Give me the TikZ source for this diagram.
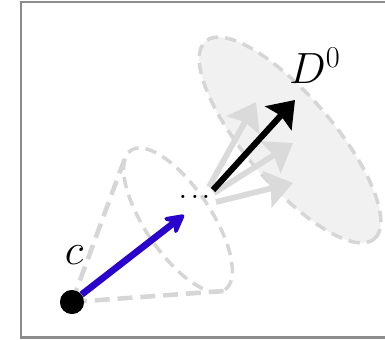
\documentclass[tikz,border=0pt]{standalone}
\usetikzlibrary{arrows.meta}
\definecolor{conegray}{HTML}{D6D6D6}
\definecolor{fadegray}{HTML}{DADADA}
\definecolor{cloudfill}{HTML}{F1F1F1}
\definecolor{framegray}{HTML}{8C8C8C}
\definecolor{pathblue}{HTML}{2A00CC}

\begin{document}
\begin{tikzpicture}[x=0.02cm, y=0.02cm,
    rim/.style={conegray, line width=2pt, dash pattern=on 6.5pt off 4pt},
    side/.style={conegray, line width=2.6pt, dash pattern=on 8.5pt off 4.5pt},
    ghost/.style={fadegray, line width=3.3pt, -{Stealth[length=15pt,width=21pt,inset=2pt]}},
    lbl/.style={font=\fontsize{26}{30}\selectfont}]
  \useasboundingbox (0,0) rectangle (385,339);
  % Frame
  \draw[framegray, line width=1.7pt] (21,2) rectangle (400,337);

  % Target region
  \draw[rim, fill=cloudfill, rotate around={-49.5:(290,199)}] (290,199) ellipse [x radius=130, y radius=44];

  % Cone around the intermediate step
  \draw[rim, rotate around={-56:(178,119)}] (178,119) ellipse [x radius=84, y radius=33];
  \node[circle, fill=black, inner sep=0pt, minimum size=13.6pt] (c0) at (72,37) {};
  \coordinate (tl) at (125,181);
  \coordinate (tr) at (224,48);
  \draw[side] (c0.center) -- (tl);
  \draw[side] (c0.center) -- (tr);

  % Possible continuations
  \coordinate (g1s) at (209,152);
  \coordinate (g1e) at (256,237);
  \coordinate (g2s) at (214,146);
  \coordinate (g2e) at (293,196);
  \coordinate (g3s) at (216,137);
  \coordinate (g3e) at (293,156);
  \draw[ghost] (g1s) -- (g1e);
  \draw[ghost] (g2s) -- (g2e);
  \draw[ghost] (g3s) -- (g3e);

  % Chosen step
  \coordinate (k0) at (213,149);
  \coordinate (k1) at (295,239);
  \draw[line width=3.5pt, -{Stealth[length=14pt,width=20pt,inset=2pt]}] (k0) -- (k1);

  % First step
  \coordinate (mid) at (184,124);
  \draw[pathblue, line width=3.8pt, -{Stealth[length=14pt,width=15pt,inset=5.5pt,round]}] (c0) -- (mid);
  \node[circle, fill=black, inner sep=0pt, minimum size=13.6pt] at (c0) {};

  % Labels
  \node[font=\fontsize{22}{24}\selectfont] (dots) at (195,142) {.\kern1pt.\kern1pt.};
  \node[lbl] (clbl) at (74,84) {$c$};
  \node[lbl] (dlbl) at (315,273) {$D^0$};
\end{tikzpicture}
\end{document}
